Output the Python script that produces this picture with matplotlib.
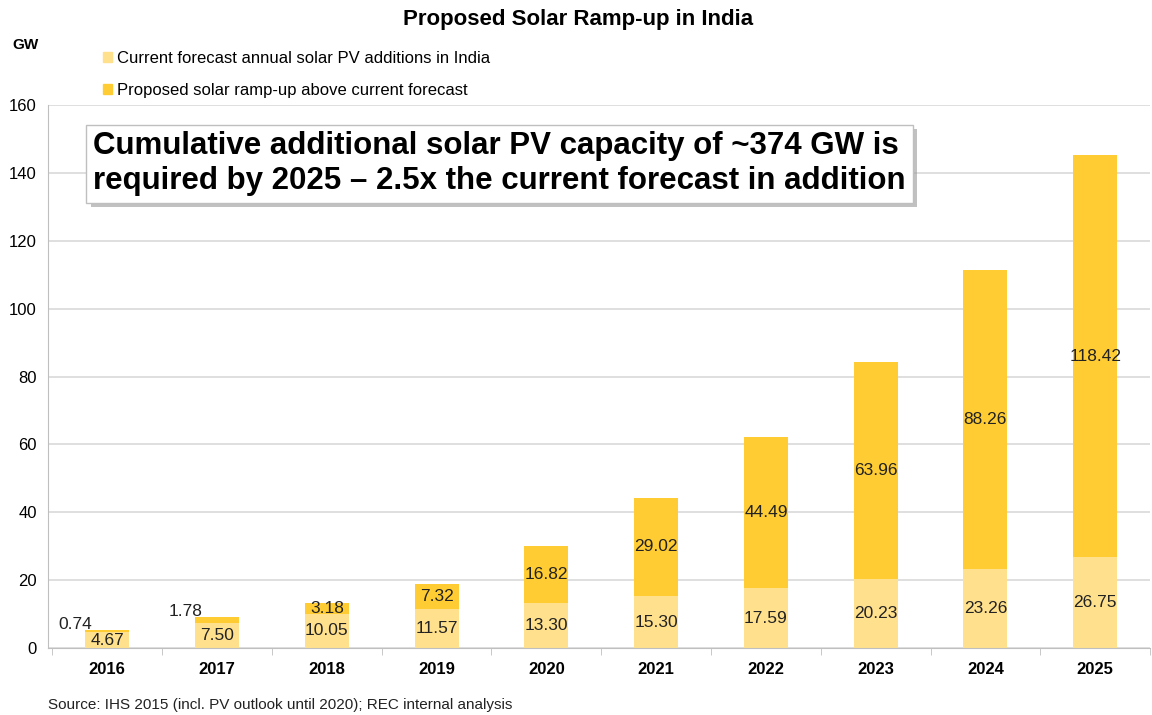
import numpy as np
import matplotlib
matplotlib.use("Agg")
import matplotlib.pyplot as plt
from matplotlib.patches import Patch
import matplotlib.patheffects as pe

years = ["2016", "2017", "2018", "2019", "2020", "2021", "2022", "2023", "2024", "2025"]
current = [4.67, 7.50, 10.05, 11.57, 13.30, 15.30, 17.59, 20.23, 23.26, 26.75]
proposed = [0.74, 1.78, 3.18, 7.32, 16.82, 29.02, 44.49, 63.96, 88.26, 118.42]

light = "#FFE08C"
dark = "#FFCD33"

plt.rcParams["font.family"] = ["Liberation Sans", "DejaVu Sans"]

fig = plt.figure(figsize=(11.52, 7.15), dpi=100)
ax = fig.add_axes([0.0417, 0.0937, 0.9566, 0.7593])

x = np.arange(len(years))
w = 0.4
ax.bar(x, current, w, color=light, zorder=2)
ax.bar(x, proposed, w, bottom=current, color=dark, zorder=2)

# labels: small top segments get their label outside, to the upper left
lab = dict(ha="center", va="center", fontsize=12.5, color="#222222", zorder=3)
for i in range(len(years)):
    c, p = current[i], proposed[i]
    ax.text(x[i], c / 2, f"{c:.2f}", **lab)
    if i < 2:
        ax.text(x[i] - 0.29, c + p + 1.6, f"{p:.2f}", **lab)
    else:
        ax.text(x[i], c + p / 2, f"{p:.2f}", **lab)

ax.set_xlim(-0.54, 9.42)
ax.set_ylim(0, 160)
ax.set_yticks(np.arange(0, 161, 20))
ax.yaxis.grid(True, color="#D9D9D9", linewidth=1.2, zorder=0)
ax.set_axisbelow(True)
ax.tick_params(axis="y", length=0, labelsize=12, pad=8)
ax.set_xticks(x)
ax.set_xticklabels(years, fontsize=12, fontweight="bold")
ax.tick_params(axis="x", length=0, pad=10)
ax.set_xticks(np.arange(-0.5, 9.6, 1), minor=True)
ax.tick_params(axis="x", which="minor", length=5, color="#BFBFBF")
for s in ["top", "right"]:
    ax.spines[s].set_visible(False)
ax.spines["left"].set_color("#BFBFBF")
ax.spines["bottom"].set_color("#BFBFBF")

fig.text(0.502, 0.973, "Proposed Solar Ramp-up in India", ha="center", va="center",
         fontsize=16, fontweight="bold")
fig.text(0.011, 0.937, "GW", ha="left", va="center", fontsize=11, fontweight="bold")

handles = [Patch(color=light), Patch(color=dark)]
fig.legend(handles, ["Current forecast annual solar PV additions in India",
                     "Proposed solar ramp-up above current forecast"],
           loc="upper left", bbox_to_anchor=(0.076, 0.95), frameon=False,
           fontsize=12, handlelength=0.55, handleheight=0.55, handletextpad=0.3,
           labelspacing=1.05)

t = fig.text(0.081, 0.771,
             "Cumulative additional solar PV capacity of ~374 GW is\nrequired by 2025 \u2013 2.5x the current forecast in addition",
             ha="left", va="center", fontsize=22.5, fontweight="bold",
             linespacing=1.2,
             bbox=dict(boxstyle="square,pad=0.22", facecolor="white", edgecolor="#BFBFBF", linewidth=1))
t.get_bbox_patch().set_path_effects([pe.SimplePatchShadow(offset=(3, -3), shadow_rgbFace="#999999", alpha=0.6),
                                      pe.Normal()])

fig.text(0.042, 0.014, "Source: IHS 2015 (incl. PV outlook until 2020); REC internal analysis",
         ha="left", va="center", fontsize=11, color="#222222")

fig.savefig("out.png", dpi=100)
